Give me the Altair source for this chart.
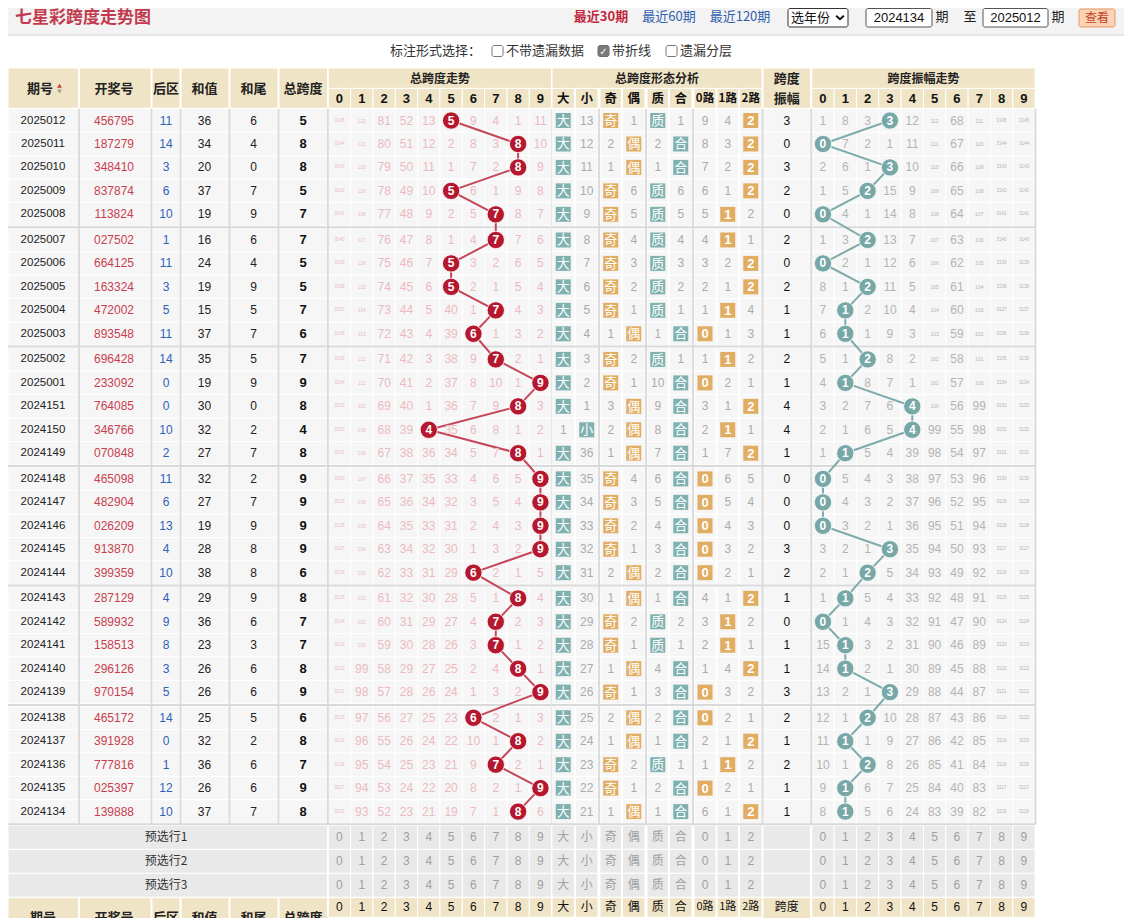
import altair as alt
import pandas as pd

# ---------------- data ----------------
periods = ["2025012", "2025011", "2025010", "2025009", "2025008", "2025007", "2025006", "2025005", "2025004", "2025003",
           "2025002", "2025001", "2024151", "2024150", "2024149", "2024148", "2024147", "2024146", "2024145", "2024144",
           "2024143", "2024142", "2024141", "2024140", "2024139", "2024138", "2024137", "2024136", "2024135", "2024134"]
draws = ["456795", "187279", "348410", "837874", "113824", "027502", "664125", "163324", "472002", "893548",
         "696428", "233092", "764085", "346766", "070848", "465098", "482904", "026209", "913870", "399359",
         "287129", "589932", "158513", "296126", "970154", "465172", "391928", "777816", "025397", "139888"]
back_zone = [11, 14, 3, 6, 10, 1, 11, 3, 5, 11, 14, 0, 0, 10, 2, 11, 6, 13, 4, 10, 4, 9, 8, 3, 5, 14, 0, 1, 12, 10]
sum_vals = [36, 34, 20, 37, 19, 16, 24, 19, 15, 37, 35, 19, 30, 32, 27, 32, 27, 19, 28, 38, 29, 36, 23, 26, 26, 25, 32, 36, 26, 37]
sum_tails = [6, 4, 0, 7, 9, 6, 4, 9, 5, 7, 5, 9, 0, 2, 7, 2, 7, 9, 8, 8, 9, 6, 3, 6, 6, 5, 2, 6, 6, 7]
spans = [5, 8, 8, 5, 7, 7, 5, 5, 7, 6, 7, 9, 8, 4, 8, 9, 9, 9, 9, 6, 8, 7, 7, 8, 9, 6, 8, 7, 9, 8]

# omission counts of the span digits 0-9 (the hit cell holds 0)
span_miss = [
    [3145, 122, 81, 52, 13, 0, 9, 4, 1, 11], [3144, 121, 80, 51, 12, 2, 8, 3, 0, 10],
    [3143, 120, 79, 50, 11, 1, 7, 2, 0, 9], [3142, 119, 78, 49, 10, 0, 6, 1, 9, 8],
    [3141, 118, 77, 48, 9, 2, 5, 0, 8, 7], [3140, 117, 76, 47, 8, 1, 4, 0, 7, 6],
    [3139, 116, 75, 46, 7, 0, 3, 2, 6, 5], [3138, 115, 74, 45, 6, 0, 2, 1, 5, 4],
    [3137, 114, 73, 44, 5, 40, 1, 0, 4, 3], [3136, 113, 72, 43, 4, 39, 0, 1, 3, 2],
    [3135, 112, 71, 42, 3, 38, 9, 0, 2, 1], [3134, 111, 70, 41, 2, 37, 8, 10, 1, 0],
    [3133, 110, 69, 40, 1, 36, 7, 9, 0, 3], [3132, 109, 68, 39, 0, 35, 6, 8, 1, 2],
    [3131, 108, 67, 38, 36, 34, 5, 7, 0, 1], [3130, 107, 66, 37, 35, 33, 4, 6, 5, 0],
    [3129, 106, 65, 36, 34, 32, 3, 5, 4, 0], [3128, 105, 64, 35, 33, 31, 2, 4, 3, 0],
    [3127, 104, 63, 34, 32, 30, 1, 3, 2, 0], [3126, 103, 62, 33, 31, 29, 0, 2, 1, 5],
    [3125, 102, 61, 32, 30, 28, 5, 1, 0, 4], [3124, 101, 60, 31, 29, 27, 4, 0, 2, 3],
    [3123, 100, 59, 30, 28, 26, 3, 0, 1, 2], [3122, 99, 58, 29, 27, 25, 2, 4, 0, 1],
    [3121, 98, 57, 28, 26, 24, 1, 3, 2, 0], [3120, 97, 56, 27, 25, 23, 0, 2, 1, 3],
    [3119, 96, 55, 26, 24, 22, 10, 1, 0, 2], [3118, 95, 54, 25, 23, 21, 9, 0, 2, 1],
    [3117, 94, 53, 24, 22, 20, 8, 2, 1, 0], [3116, 93, 52, 23, 21, 19, 7, 1, 0, 6],
]

pattern_labels = ["大", "小", "奇", "偶", "质", "合", "0", "1", "2"]
pattern_kind = ["teal", "teal", "orange", "orange", "teal", "teal", "orange", "orange", "orange"]
# omission of 大 小 奇 偶 质 合 0路 1路 2路 (0 = hit)
pattern_miss = [
    [0, 13, 0, 1, 0, 1, 9, 4, 0], [0, 12, 2, 0, 2, 0, 8, 3, 0], [0, 11, 1, 0, 1, 0, 7, 2, 0],
    [0, 10, 0, 6, 0, 6, 6, 1, 0], [0, 9, 0, 5, 0, 5, 5, 0, 2], [0, 8, 0, 4, 0, 4, 4, 0, 1],
    [0, 7, 0, 3, 0, 3, 3, 2, 0], [0, 6, 0, 2, 0, 2, 2, 1, 0], [0, 5, 0, 1, 0, 1, 1, 0, 4],
    [0, 4, 1, 0, 1, 0, 0, 1, 3], [0, 3, 0, 2, 0, 1, 1, 0, 2], [0, 2, 0, 1, 10, 0, 0, 2, 1],
    [0, 1, 3, 0, 9, 0, 3, 1, 0], [1, 0, 2, 0, 8, 0, 2, 0, 1], [0, 36, 1, 0, 7, 0, 1, 7, 0],
    [0, 35, 0, 4, 6, 0, 0, 6, 5], [0, 34, 0, 3, 5, 0, 0, 5, 4], [0, 33, 0, 2, 4, 0, 0, 4, 3],
    [0, 32, 0, 1, 3, 0, 0, 3, 2], [0, 31, 2, 0, 2, 0, 0, 2, 1], [0, 30, 1, 0, 1, 0, 4, 1, 0],
    [0, 29, 0, 2, 0, 2, 3, 0, 2], [0, 28, 0, 1, 0, 1, 2, 0, 1], [0, 27, 1, 0, 4, 0, 1, 4, 0],
    [0, 26, 0, 1, 3, 0, 0, 3, 2], [0, 25, 2, 0, 2, 0, 0, 2, 1], [0, 24, 1, 0, 1, 0, 2, 1, 0],
    [0, 23, 0, 2, 0, 1, 1, 0, 2], [0, 22, 0, 1, 2, 0, 0, 2, 1], [0, 21, 1, 0, 1, 0, 6, 1, 0],
]

amplitudes = [3, 0, 3, 2, 0, 2, 0, 2, 1, 1, 2, 1, 4, 4, 1, 0, 0, 0, 3, 2, 1, 0, 1, 1, 3, 2, 1, 2, 1, 1]
amp_miss = [
    [1, 8, 3, 0, 12, 112, 68, 111, 3145, 3145], [0, 7, 2, 1, 11, 111, 67, 110, 3144, 3144],
    [2, 6, 1, 0, 10, 110, 66, 109, 3143, 3143], [1, 5, 0, 15, 9, 109, 65, 108, 3142, 3142],
    [0, 4, 1, 14, 8, 108, 64, 107, 3141, 3141], [1, 3, 0, 13, 7, 107, 63, 106, 3140, 3140],
    [0, 2, 1, 12, 6, 106, 62, 105, 3139, 3139], [8, 1, 0, 11, 5, 105, 61, 104, 3138, 3138],
    [7, 0, 2, 10, 4, 104, 60, 103, 3137, 3137], [6, 0, 1, 9, 3, 103, 59, 102, 3136, 3136],
    [5, 1, 0, 8, 2, 102, 58, 101, 3135, 3135], [4, 0, 8, 7, 1, 101, 57, 100, 3134, 3134],
    [3, 2, 7, 6, 0, 100, 56, 99, 3133, 3133], [2, 1, 6, 5, 0, 99, 55, 98, 3132, 3132],
    [1, 0, 5, 4, 39, 98, 54, 97, 3131, 3131], [0, 5, 4, 3, 38, 97, 53, 96, 3130, 3130],
    [0, 4, 3, 2, 37, 96, 52, 95, 3129, 3129], [0, 3, 2, 1, 36, 95, 51, 94, 3128, 3128],
    [3, 2, 1, 0, 35, 94, 50, 93, 3127, 3127], [2, 1, 0, 5, 34, 93, 49, 92, 3126, 3126],
    [1, 0, 5, 4, 33, 92, 48, 91, 3125, 3125], [0, 1, 4, 3, 32, 91, 47, 90, 3124, 3124],
    [15, 0, 3, 2, 31, 90, 46, 89, 3123, 3123], [14, 0, 2, 1, 30, 89, 45, 88, 3122, 3122],
    [13, 2, 1, 0, 29, 88, 44, 87, 3121, 3121], [12, 1, 0, 10, 28, 87, 43, 86, 3120, 3120],
    [11, 0, 1, 9, 27, 86, 42, 85, 3119, 3119], [10, 1, 0, 8, 26, 85, 41, 84, 3118, 3118],
    [9, 0, 6, 7, 25, 84, 40, 83, 3117, 3117], [8, 0, 5, 6, 24, 83, 39, 82, 3116, 3116],
]

digits = ["0", "1", "2", "3", "4", "5", "6", "7", "8", "9"]
header_fixed = ["期号", "开奖号", "后区", "和值", "和尾", "总跨度"]
group_titles = ["总跨度走势", "总跨度形态分析", "跨度振幅走势"]
sub_pattern = ["大", "小", "奇", "偶", "质", "合", "0路", "1路", "2路"]
presel_labels = ["预选行1", "预选行2", "预选行3"]
presel_pattern = ["大", "小", "奇", "偶", "质", "合", "0", "1", "2"]
title_text = "七星彩跨度走势图"
nav_links = ["最近30期", "最近60期", "最近120期"]
select_text = "选年份"
range_from, range_to = "2024134", "2025012"
option_prompt = "标注形式选择："
options = ["不带遗漏数据", "带折线", "遗漏分层"]
options_checked = [False, True, False]

# ---------------- layout / style ----------------
W, H = 1116, 910
CJK = "Noto Sans CJK SC"
LAT = "Liberation Sans"
BEIGE = "#f0e4c6"
CELL = "#f6f6f6"
GRAYCELL = "#e9e9e9"
SEP = "#d9d9d9"
TEAL = "#7fb1b1"
ORANGE = "#e1ad63"
RED_C = "#b5182e"
RED_L = "#c4475a"
TEAL_C = "#77a7a7"
TEAL_L = "#7eabab"
PINK = "#ebbac0"
MGRAY = "#b4b4b4"

FIXED_X = [(8, 78.5), (79.5, 151), (152, 180), (181, 229), (230, 278), (279, 327.5)]
FIXED_C = [43, 114, 166, 204.5, 253.5, 303]
TR_X0, AMP_X0, CW = 328.3, 811.8, 22.33
PAT_X = [(552, 574.5), (575.5, 598), (600, 621.5), (622.5, 645), (647, 668.5), (669.5, 692),
         (694, 716), (717, 738.5), (739.5, 762)]
AMPV_X = (763, 810.5)
ROW_TOP0, ROW_H, GAP = 108.8, 23.45, 2.2


def trend_col(i):
    return TR_X0 + i * CW, TR_X0 + (i + 1) * CW


def amp_col(i):
    return AMP_X0 + i * CW, AMP_X0 + (i + 1) * CW


def row_y(r):
    t = ROW_TOP0 + r * ROW_H + (r // 5) * GAP
    return t, t + ROW_H


def mid(a):
    return (a[0] + a[1]) / 2


rects, hits, ctrl, rules, texts = [], [], [], [], []


def R(lst, x1, x2, y1, y2, fill, stroke="#ffffff", sw=1.0):
    lst.append(dict(x1=x1, x2=x2, y1=y1, y2=y2, fill=fill, stroke=stroke, sw=sw))


def L(x1, y1, x2, y2, c, sw):
    rules.append(dict(x1=x1, x2=x2, y1=y1, y2=y2, c=c, sw=sw))


def T(x, y, t, c="#222222", fs=12, font=CJK, weight="normal", align="center"):
    texts.append(dict(x=x, y=y, t=str(t), c=c, fs=fs, font=font, weight=weight, align=align))


# title bar
R(rects, 8, 1124, 8, 35, "#f3f3f3", "#f3f3f3", 0)
L(8, 35, 1124, 35, "#d4d4d4", 1)
T(15, 18, title_text, "#c33a4e", 17, CJK, "bold", "left")
T(601, 17, nav_links[0], "#c0283c", 13, CJK, "bold")
T(669, 17, nav_links[1], "#2f5fae", 13)
T(740, 17, nav_links[2], "#2f5fae", 13)
R(ctrl, 788, 848, 8.5, 27, "#ffffff", "#333333", 1)
T(791, 17.5, select_text, "#111111", 13, CJK, "normal", "left")
R(ctrl, 866, 932, 8.5, 27, "#ffffff", "#555555", 1)
T(899, 17.5, range_from, "#111111", 13, LAT)
T(942, 17, "期", "#222222", 13)
T(970, 17, "至", "#222222", 13)
R(ctrl, 983, 1048, 8.5, 27, "#ffffff", "#555555", 1)
T(1015.5, 17.5, range_to, "#111111", 13, LAT)
T(1058, 17, "期", "#222222", 13)
R(ctrl, 1079, 1115, 9, 27, "#fcd3b4", "#e39a68", 1)
T(1097, 18, "查看", "#c2421e", 12)

# options line
T(390, 51, option_prompt, "#333333", 13, CJK, "normal", "left")
opt_x = [492, 598, 666]
for ox, lab, chk in zip(opt_x, options, options_checked):
    if chk:
        R(ctrl, ox, ox + 11, 45.5, 56.5, "#7a7a7a", "#6a6a6a", 1)
        T(ox + 5.5, 51.5, "✓", "#ffffff", 10, "DejaVu Sans", "bold")
    else:
        R(ctrl, ox, ox + 11, 45.5, 56.5, "#ffffff", "#767676", 1)
    T(ox + 14, 51, lab, "#333333", 13, CJK, "normal", "left")

# header (top)
HT, HM, HB = 68, 88.4, 108.3
for (x1, x2), cx, name in zip(FIXED_X, FIXED_C, header_fixed):
    R(rects, x1, x2, HT, HB, BEIGE)
    if name == "期号":
        T(cx - 3, 88.5, name, "#222222", 13, CJK, "bold")
    else:
        T(cx, 88.5, name, "#222222", 13, CJK, "bold")
R(rects, TR_X0, TR_X0 + 10 * CW, HT, HM, BEIGE)
T(TR_X0 + 5 * CW, 78.5, group_titles[0], "#222222", 12, CJK, "bold")
R(rects, PAT_X[0][0], PAT_X[-1][1], HT, HM, BEIGE)
T(mid((PAT_X[0][0], PAT_X[-1][1])), 78.5, group_titles[1], "#222222", 12, CJK, "bold")
R(rects, AMPV_X[0], AMPV_X[1], HT, HB, BEIGE)
T(mid(AMPV_X), 79, "跨度", "#222222", 13, CJK, "bold")
T(mid(AMPV_X), 98.5, "振幅", "#222222", 13, CJK, "bold")
R(rects, AMP_X0, AMP_X0 + 10 * CW, HT, HM, BEIGE)
T(AMP_X0 + 5 * CW, 78.5, group_titles[2], "#222222", 12, CJK, "bold")
for i, d in enumerate(digits):
    R(rects, *trend_col(i), HM, HB, BEIGE)
    T(mid(trend_col(i)), 98.5, d, "#111111", 13, LAT, "bold")
    R(rects, *amp_col(i), HM, HB, BEIGE)
    T(mid(amp_col(i)), 98.5, d, "#111111", 13, LAT, "bold")
for (x1, x2), lab in zip(PAT_X, sub_pattern):
    R(rects, x1, x2, HM, HB, BEIGE)
    T(mid((x1, x2)), 98.5, lab, "#111111", 12.5 if len(lab) == 1 else 11.5, CJK, "bold")

# data rows
trend_pts, amp_pts = [], []
for r in range(len(periods)):
    y1, y2 = row_y(r)
    yc = (y1 + y2) / 2
    for (x1, x2) in FIXED_X:
        R(rects, x1, x2, y1, y2, CELL)
    T(FIXED_C[0], yc, periods[r], "#222222", 11.5, LAT)
    T(FIXED_C[1], yc, draws[r], "#c8404f", 12, LAT)
    T(FIXED_C[2], yc, back_zone[r], "#2d62b8", 12, LAT)
    T(FIXED_C[3], yc, sum_vals[r], "#222222", 12, LAT)
    T(FIXED_C[4], yc, sum_tails[r], "#222222", 12, LAT)
    T(FIXED_C[5], yc, spans[r], "#111111", 13, LAT, "bold")
    for i in range(10):
        R(rects, *trend_col(i), y1, y2, CELL)
        cx = mid(trend_col(i))
        if i == spans[r]:
            trend_pts.append(dict(x=cx, y=yc, r=r, t=str(spans[r])))
        else:
            v = span_miss[r][i]
            fs = 12 if v < 100 else (5 if v < 1000 else 4.5)
            T(cx, yc, v, PINK, fs, LAT)
        R(rects, *amp_col(i), y1, y2, CELL)
        ax = mid(amp_col(i))
        if i == amplitudes[r]:
            amp_pts.append(dict(x=ax, y=yc, r=r, t=str(amplitudes[r])))
        else:
            v = amp_miss[r][i]
            fs = 12 if v < 100 else (5 if v < 1000 else 4.5)
            T(ax, yc, v, MGRAY, fs, LAT)
    for j, (x1, x2) in enumerate(PAT_X):
        R(rects, x1, x2, y1, y2, CELL)
        cx = mid((x1, x2))
        v = pattern_miss[r][j]
        if v == 0:
            R(hits, cx - 7.5, cx + 7.5, yc - 7.5, yc + 7.5,
              TEAL if pattern_kind[j] == "teal" else ORANGE, "#ffffff", 0)
            if j >= 6:
                T(cx, yc + 0.5, pattern_labels[j], "#ffffff", 13, LAT, "bold")
            else:
                T(cx, yc + 0.5, pattern_labels[j], "#ffffff", 13, CJK)
        else:
            T(cx, yc, v, "#ababab", 12, LAT)
    R(rects, *AMPV_X, y1, y2, CELL)
    T(mid(AMPV_X), yc, amplitudes[r], "#111111", 12, LAT)

last_bottom = row_y(len(periods) - 1)[1]
# separators
for k in range(1, 6):
    ys = row_y(5 * k - 1)[1] + GAP / 2
    L(8, ys, 1035.5, ys, SEP, 2)
L(8, last_bottom + 1, 1035.5, last_bottom + 1, SEP, 2)
for sx in [79, 151.5, 180.5, 229.5, 278.5, 327.9, 599, 646, 693, 762.5, 811.2, 1035.5]:
    L(sx, ROW_TOP0, sx, last_bottom + 1, SEP, 1.8)
L(551.6, ROW_TOP0, 551.6, last_bottom + 1, "#e6e6e6", 1.2)

# preselect rows
PS0, PSH = last_bottom + 2.2, 23.9
for k, lab in enumerate(presel_labels):
    y1 = PS0 + k * PSH
    y2 = y1 + PSH
    yc = (y1 + y2) / 2
    R(rects, 8, 327.5, y1, y2, GRAYCELL)
    T(166, yc, lab, "#333333", 12)
    for i, d in enumerate(digits):
        R(rects, *trend_col(i), y1, y2, GRAYCELL)
        T(mid(trend_col(i)), yc, d, "#a0a0a0", 12, LAT)
        R(rects, *amp_col(i), y1, y2, GRAYCELL)
        T(mid(amp_col(i)), yc, d, "#a0a0a0", 12, LAT)
    for (x1, x2), lab2 in zip(PAT_X, presel_pattern):
        R(rects, x1, x2, y1, y2, GRAYCELL)
        T(mid((x1, x2)), yc, lab2, "#a0a0a0", 12, CJK if lab2 in "大小奇偶质合" else LAT)
    R(rects, *AMPV_X, y1, y2, GRAYCELL)

# bottom header
BT = PS0 + 3 * PSH + 0.5
BM = BT + 19.5
for (x1, x2), cx, name in zip(FIXED_X, FIXED_C, header_fixed):
    R(rects, x1, x2, BT, BT + 40, BEIGE)
    T(cx, BT + 20, name, "#222222", 13, CJK, "bold")
for i, d in enumerate(digits):
    R(rects, *trend_col(i), BT, BM, BEIGE)
    T(mid(trend_col(i)), BT + 9.5, d, "#111111", 12, LAT)
    R(rects, *amp_col(i), BT, BM, BEIGE)
    T(mid(amp_col(i)), BT + 9.5, d, "#111111", 12, LAT)
for (x1, x2), lab in zip(PAT_X, sub_pattern):
    R(rects, x1, x2, BT, BM, BEIGE)
    T(mid((x1, x2)), BT + 9.5, lab, "#111111", 12 if len(lab) == 1 else 11, CJK)
R(rects, *AMPV_X, BT, BT + 40, BEIGE)
T(mid(AMPV_X), BT + 9.5, "跨度", "#111111", 12, CJK)

# ---------------- chart ----------------
xs = alt.Scale(domain=[8, 8 + W], nice=False, zero=False)
ysc = alt.Scale(domain=[8, 8 + H], nice=False, zero=False, reverse=True)


def ex(f):
    return alt.X(f"{f}:Q", scale=xs, axis=None)


def ey(f):
    return alt.Y(f"{f}:Q", scale=ysc, axis=None)


def rect_layer(rows, **mk):
    return alt.Chart(pd.DataFrame(rows)).mark_rect(clip=True, **mk).encode(
        x=ex("x1"), x2="x2", y=ey("y1"), y2="y2",
        fill=alt.Fill("fill:N", scale=None),
        stroke=alt.Stroke("stroke:N", scale=None),
        strokeWidth=alt.StrokeWidth("sw:Q", scale=None))


layers = [rect_layer(rects)]
layers.append(alt.Chart(pd.DataFrame(rules)).mark_rule(clip=True).encode(
    x=ex("x1"), x2="x2", y=ey("y1"), y2="y2",
    color=alt.Color("c:N", scale=None), strokeWidth=alt.StrokeWidth("sw:Q", scale=None)))
layers.append(rect_layer(hits))
layers.append(rect_layer(ctrl, cornerRadius=2))

# sort arrows and select chevron
arrows = pd.DataFrame([dict(x=59.5, y=85.8, shape="triangle-up", c="#d0303c"),
                       dict(x=59.5, y=91.5, shape="triangle-down", c="#9a9a9a")])
layers.append(alt.Chart(arrows).mark_point(filled=True, size=22, opacity=1, clip=True).encode(
    x=ex("x"), y=ey("y"), shape=alt.Shape("shape:N", scale=None), color=alt.Color("c:N", scale=None)))
chev = pd.DataFrame([dict(x=840, y=17.5)])
layers.append(alt.Chart(chev).mark_point(shape="M-1,-0.45L0,0.45L1,-0.45", filled=False, size=60,
                                         strokeWidth=2, color="#111111", opacity=1).encode(
    x=ex("x"), y=ey("y")))

tp = pd.DataFrame(trend_pts)
ap = pd.DataFrame(amp_pts)
layers.append(alt.Chart(tp).mark_line(color=RED_L, strokeWidth=2, clip=True).encode(
    x=ex("x"), y=ey("y"), order="r:Q"))
layers.append(alt.Chart(ap).mark_line(color=TEAL_L, strokeWidth=2, clip=True).encode(
    x=ex("x"), y=ey("y"), order="r:Q"))
layers.append(alt.Chart(tp).mark_circle(size=300, color=RED_C, opacity=1, stroke="#ffffff",
                                        strokeWidth=0.8, clip=True).encode(x=ex("x"), y=ey("y")))
layers.append(alt.Chart(ap).mark_circle(size=300, color=TEAL_C, opacity=1, stroke="#ffffff",
                                        strokeWidth=0.8, clip=True).encode(x=ex("x"), y=ey("y")))
layers.append(alt.Chart(tp).mark_text(font=LAT, fontWeight="bold", fontSize=12, color="#ffffff",
                                      baseline="middle", clip=True).encode(
    x=ex("x"), y=ey("y"), text="t:N"))
layers.append(alt.Chart(ap).mark_text(font=LAT, fontWeight="bold", fontSize=12, color="#ffffff",
                                      baseline="middle", clip=True).encode(
    x=ex("x"), y=ey("y"), text="t:N"))

tdf = pd.DataFrame(texts)
for (font, weight, align), g in tdf.groupby(["font", "weight", "align"]):
    layers.append(alt.Chart(g.reset_index(drop=True)).mark_text(
        font=font, fontWeight=weight, align=align, baseline="middle", clip=True).encode(
        x=ex("x"), y=ey("y"), text=alt.Text("t:N"),
        color=alt.Color("c:N", scale=None), size=alt.Size("fs:Q", scale=None)))

chart = alt.layer(*layers).properties(
    width=W, height=H, padding=0, autosize=alt.AutoSizeParams(type="none"),
    background="#ffffff").configure_view(stroke=None)

chart.save("out.html", embed_options={"renderer": "svg", "actions": False})
